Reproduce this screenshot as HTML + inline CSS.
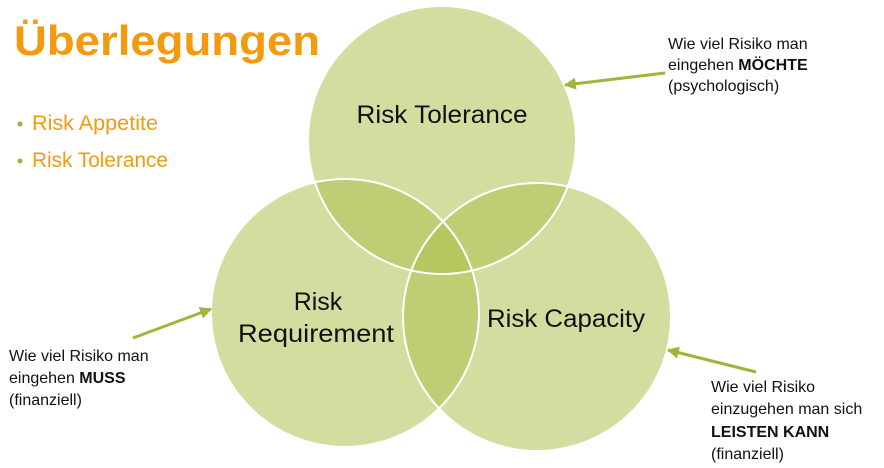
<!DOCTYPE html>
<html><head><style>
body{margin:0;width:884px;height:468px;background:#fff;overflow:hidden;font-family:"Liberation Sans",sans-serif}
</style></head><body>
<svg width="884" height="468" xmlns="http://www.w3.org/2000/svg" style="position:absolute;left:0;top:0">
<defs>
<marker id="m" viewBox="0 0 10 10" markerWidth="12" markerHeight="12" refX="9" refY="5" orient="auto" markerUnits="userSpaceOnUse"><path d="M0,0 L10,5 L0,10 z" fill="#9cb53b"/></marker></defs>
<g fill="#afc150" fill-opacity="0.55">
<circle cx="442" cy="140" r="134"/>
<circle cx="345" cy="313" r="134"/>
<circle cx="537" cy="317" r="134"/>
</g>
<g fill="none" stroke="#fff" stroke-width="2">
<circle cx="442" cy="140" r="134"/>
<circle cx="345" cy="313" r="134"/>
<circle cx="537" cy="317" r="134"/>
</g>
<text x="14" y="55" font-size="42" font-weight="bold" fill="#f39a0e" textLength="306" lengthAdjust="spacingAndGlyphs">Überlegungen</text>
<circle cx="20" cy="124" r="2.5" fill="#9cb53b"/>
<circle cx="20" cy="161" r="2.5" fill="#9cb53b"/>
<text x="32" y="130" font-size="21" fill="#f39a0e" textLength="126" lengthAdjust="spacingAndGlyphs">Risk Appetite</text>
<text x="32" y="167" font-size="21" fill="#f39a0e" textLength="136" lengthAdjust="spacingAndGlyphs">Risk Tolerance</text>
<g font-size="25" fill="#111" text-anchor="middle">
<text x="442" y="123" textLength="171" lengthAdjust="spacingAndGlyphs">Risk Tolerance</text>
<text x="318" y="310">Risk</text>
<text x="316" y="342" textLength="156" lengthAdjust="spacingAndGlyphs">Requirement</text>
<text x="566" y="327" textLength="158" lengthAdjust="spacingAndGlyphs">Risk Capacity</text>
</g>
<g stroke="#9cb53b" stroke-width="3" fill="none">
<line x1="665" y1="73" x2="565" y2="85" marker-end="url(#m)"/>
<line x1="133" y1="338" x2="211" y2="309" marker-end="url(#m)"/>
<line x1="756" y1="372" x2="668" y2="350" marker-end="url(#m)"/>
</g>
<g font-size="16" fill="#111">
<text x="668" y="49">Wie viel Risiko man</text>
<text x="668" y="70">eingehen <tspan font-weight="bold">MÖCHTE</tspan></text>
<text x="668" y="91">(psychologisch)</text>
<text x="9" y="361">Wie viel Risiko man</text>
<text x="9" y="383">eingehen <tspan font-weight="bold">MUSS</tspan></text>
<text x="9" y="405">(finanziell)</text>
<text x="711" y="392">Wie viel Risiko</text>
<text x="711" y="414">einzugehen man sich</text>
<text x="711" y="437" font-weight="bold">LEISTEN KANN</text>
<text x="711" y="459">(finanziell)</text>
</g>
</svg>
</body></html>
